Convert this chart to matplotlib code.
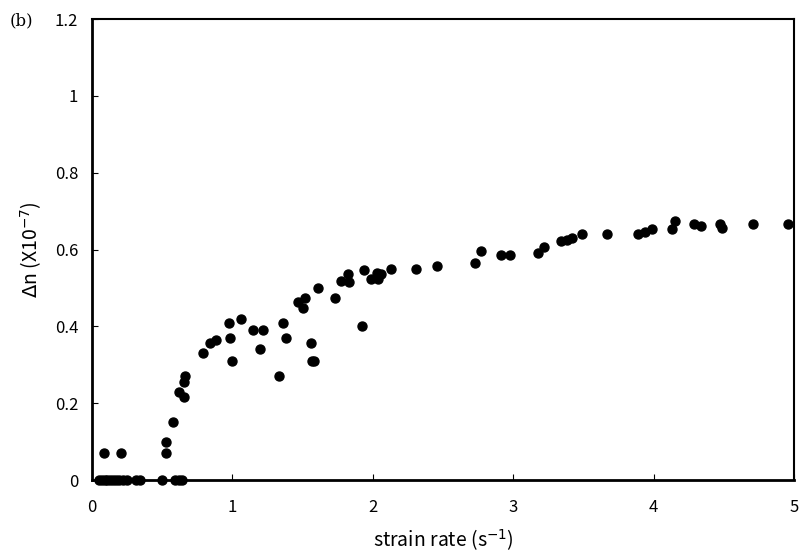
import matplotlib.pyplot as plt

# strain rate (1/s) and birefringence (x1e-7)
strain_rate = [0.05, 0.07, 0.09, 0.11, 0.13, 0.15, 0.17, 0.19, 0.22, 0.25, 0.31, 0.34,
               0.50, 0.59, 0.62, 0.64,
               0.085, 0.21, 0.53, 0.53, 0.58, 0.62, 0.655, 0.655, 0.665,
               0.79, 0.84, 0.88, 0.976, 1.06, 0.98, 1.0, 1.15, 1.22, 1.20,
               1.33, 1.36, 1.38, 1.56, 1.57, 1.58, 1.92, 1.47, 1.50, 1.52,
               1.61, 1.73, 1.77, 1.82, 1.83, 1.94, 1.99, 2.03, 2.04, 2.06,
               2.13, 2.31, 2.46, 2.73, 2.77, 2.91, 2.98, 3.18, 3.22, 3.34,
               3.38, 3.42, 3.49, 3.67, 3.89, 3.94, 3.99, 4.13, 4.15, 4.29,
               4.34, 4.47, 4.49, 4.71, 4.96]
delta_n = [0, 0, 0, 0, 0, 0, 0, 0, 0, 0, 0, 0,
           0, 0, 0, 0,
           0.07, 0.07, 0.07, 0.10, 0.15, 0.23, 0.216, 0.255, 0.27,
           0.33, 0.357, 0.365, 0.41, 0.42, 0.37, 0.31, 0.39, 0.39, 0.34,
           0.27, 0.41, 0.37, 0.357, 0.31, 0.31, 0.40, 0.463, 0.447, 0.475,
           0.50, 0.475, 0.518, 0.535, 0.515, 0.547, 0.523, 0.54, 0.523, 0.535,
           0.55, 0.55, 0.557, 0.565, 0.596, 0.586, 0.586, 0.59, 0.607, 0.622,
           0.625, 0.630, 0.64, 0.64, 0.64, 0.646, 0.653, 0.653, 0.674, 0.666,
           0.661, 0.666, 0.656, 0.666, 0.666]

plt.rcParams['font.family'] = ['Noto Sans CJK JP', 'DejaVu Sans']

fig = plt.figure(figsize=(8.04, 5.59), dpi=100)
ax = fig.add_axes([0.1144, 0.1413, 0.8732, 0.8247])
ax.scatter(strain_rate, delta_n, s=42, color='black', clip_on=False, zorder=3)

ax.set_xlim(0, 5)
ax.set_ylim(0, 1.2)
ax.set_xticks([0, 1, 2, 3, 4, 5])
ax.set_xticklabels(['0', '1', '2', '3', '4', '5'])
ax.set_yticks([0, 0.2, 0.4, 0.6, 0.8, 1.0, 1.2])
ax.set_yticklabels(['0', '0.2', '0.4', '0.6', '0.8', '1', '1.2'])
ax.tick_params(direction='in', length=4, width=0.8, labelsize=12)
ax.tick_params(axis='x', pad=14)
ax.tick_params(axis='y', pad=10)

ax.spines['left'].set_linewidth(2)
ax.spines['bottom'].set_linewidth(2)
ax.spines['top'].set_linewidth(1.5)
ax.spines['right'].set_linewidth(1.5)

ax.set_xlabel('strain rate (s$^{-1}$)', fontsize=14, labelpad=8)
ax.set_ylabel(r'$\Delta$n (X10$^{-7}$)', fontsize=14, labelpad=8)
fig.text(0.012, 0.955, '(b)', fontsize=12, family='DejaVu Serif')

fig.savefig('out.png')
